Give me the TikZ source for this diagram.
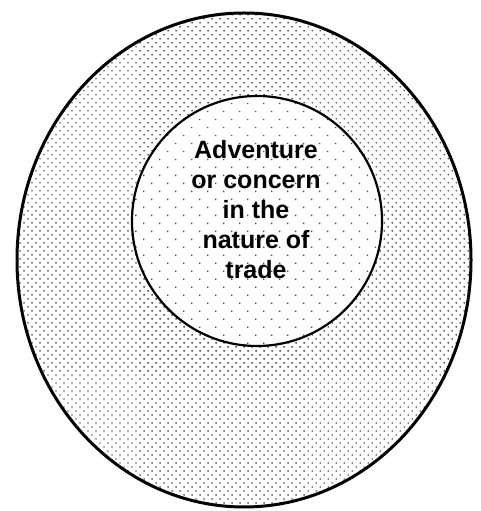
\documentclass[tikz,border=0pt]{standalone}
\usepackage{fontspec}
\setmainfont{Liberation Sans}
\usetikzlibrary{shapes.geometric,patterns.meta}
\begin{document}
\begin{tikzpicture}[x=1pt,y=1pt,
  ring/.style={ellipse, draw=black, inner sep=0pt},
  label/.style={align=center, font=\bfseries\fontsize{25}{30}\selectfont, inner sep=0pt}]
\useasboundingbox (0,0) rectangle (480,511);
\node (outer) [ring, line width=3pt, minimum width=454pt, minimum height=494pt,
  pattern={Dots[distance=5.66pt, angle=45, radius=0.95pt]}, pattern color=black!70] at (244,251) {};
\node (innerbg) [ellipse, fill=white, minimum width=250pt, minimum height=250pt, inner sep=0pt] at (257,290) {};
\node (inner) [ring, line width=2.2pt, minimum width=250pt, minimum height=250pt,
  pattern={Dots[distance=11.3pt, angle=45, radius=0.95pt]}, pattern color=black!70] at (257,290) {};
\node (text) [label] at (256,301) {Adventure\\or concern\\in the\\nature of\\trade};
\end{tikzpicture}
\end{document}
